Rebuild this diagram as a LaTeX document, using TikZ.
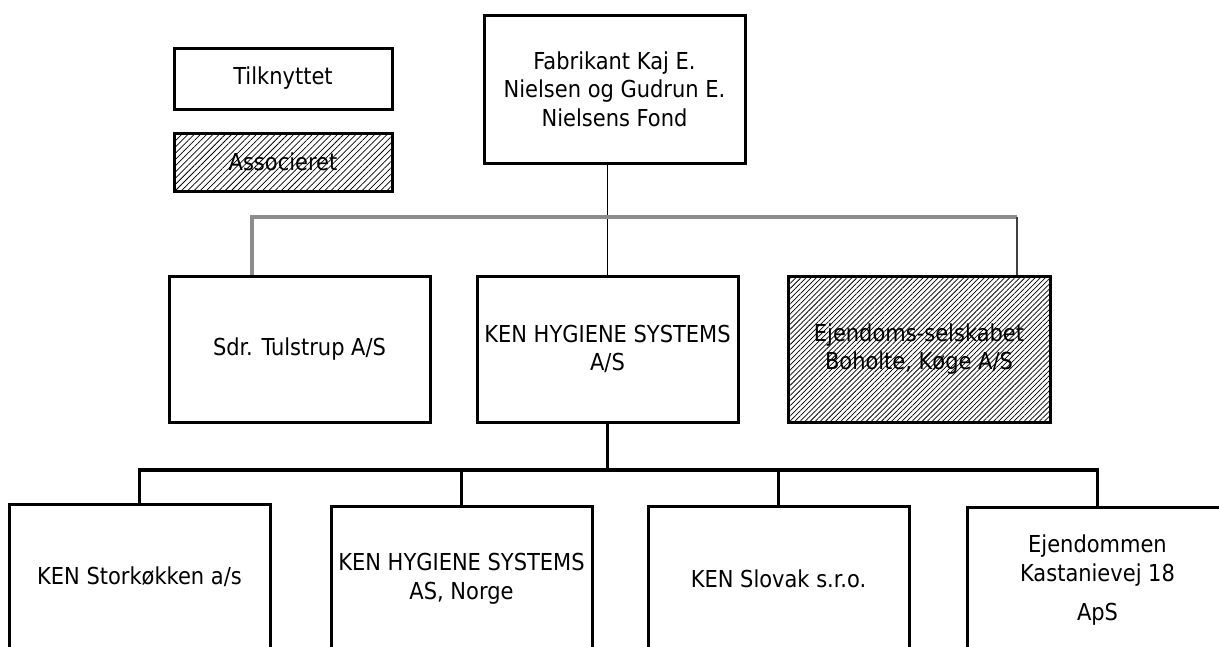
\documentclass[tikz,border=0pt]{standalone}
\usepackage{fontspec}
\setmainfont{DejaVu Sans Condensed}
\usetikzlibrary{patterns.meta}

\tikzset{
  orgbox/.style={draw, line width=2.25pt, minimum width=195.75pt, minimum height=109.5pt,
    align=center, inner sep=0pt, font=\fontsize{17.5}{21.5}\selectfont},
  assoc/.style={pattern={Lines[angle=45,distance=2.7pt,line width=0.55pt]}},
  link/.style={line width=2.4pt},
  thinlink/.style={line width=1.4pt},
  greylink/.style={line width=2.6pt, draw=black!45},
}

\begin{document}
\begin{tikzpicture}[x=0.75pt,y=-0.75pt]
  \useasboundingbox (0,0) rectangle (1219,646);
  \clip (0,0) rectangle (1219,646);
  % Legend
  \node[orgbox, minimum width=163.5pt, minimum height=45.75pt] (tilk) at (283,78.5) {Tilknyttet};
  \node[orgbox, assoc, pattern={Lines[angle=45,distance=3.3pt,line width=0.55pt]},
    minimum width=163.5pt, minimum height=43.5pt] (assoc) at (283,162) {Associeret};
  % Foundation
  \node[orgbox, minimum height=111pt] (fond) at (614.5,89) {Fabrikant Kaj E.\\Nielsen og Gudrun E.\\Nielsens Fond};
  % Second level
  \node[orgbox] (sdr) at (299.5,349) {Sdr. Tulstrup A/S};
  \node[orgbox] (ken) at (607.5,349) {KEN HYGIENE SYSTEMS\\A/S};
  \node[orgbox, assoc, minimum width=196.5pt] (boholte) at (919,349) {Ejendoms-selskabet\\Boholte, Køge A/S};
  % Third level (cut off at the bottom)
  \node[orgbox] (stork) at (139.5,577) {KEN Storkøkken a/s};
  \node[orgbox] (norge) at (461.5,579) {KEN HYGIENE SYSTEMS\\AS, Norge};
  \node[orgbox] (slovak) at (778.5,579) {KEN Slovak s.r.o.};
  \node[orgbox] (kast) at (1097.5,580) {Ejendommen\\Kastanievej 18\\[7.5pt]ApS};
  % Connections
  \coordinate (bus1) at (252,217);
  \coordinate (bus2) at (1017,217);
  \coordinate (bus3) at (0,470);
  \draw[thinlink] (fond.south -| ken.north) -- (ken.north);
  \draw[greylink] (sdr.north -| bus1) -- (bus1) -- (bus2);
  \draw[thinlink, draw=black!75] (bus2) -- (boholte.north -| bus2);
  \draw[link] (ken.south) -- (ken.south |- bus3);
  \draw[link] (stork.north) -- (stork.north |- bus3) -- (kast.north |- bus3) -- (kast.north);
  \foreach \n in {norge, slovak}
    \draw[link] (\n.north) -- (\n.north |- bus3);
\end{tikzpicture}
\end{document}
